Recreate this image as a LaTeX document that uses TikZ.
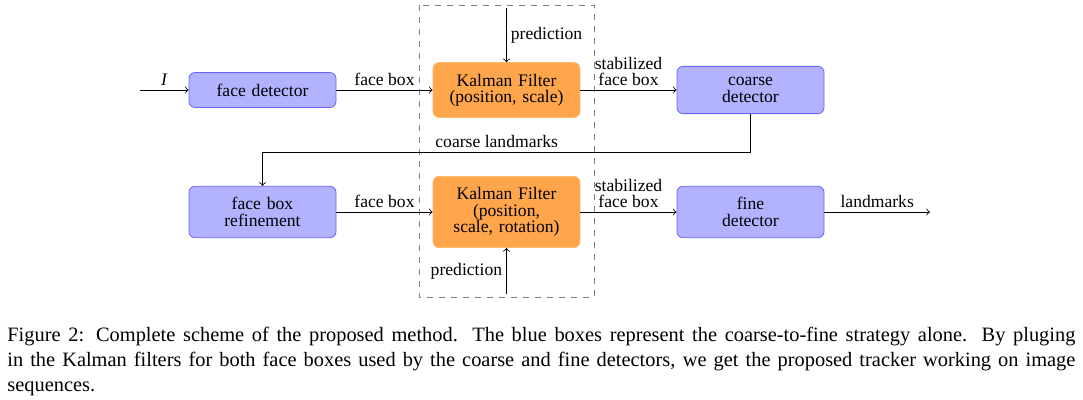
\documentclass[tikz,border=0pt]{standalone}
\usepackage{fontspec}
\setmainfont{Liberation Serif}
\begin{document}
\begin{tikzpicture}[x=0.5pt,y=-0.5pt,
    detbox/.style={draw=blue!60, fill=blue!30, rounded corners=3pt, inner sep=5.6pt,
      text width=62.3pt, align=center, font=\fontsize{8.8}{8.2}\selectfont},
    kfbox/.style={detbox, draw=orange!55, fill=orange!70},
    lbl/.style={font=\fontsize{8.8}{8.2}\selectfont, align=center, inner sep=2pt}]
    \useasboundingbox (0,0) rectangle (1083,400);
    % the two Kalman filters
    \draw [gray, dashed] (419,5) rectangle (594,297);
    \node [detbox] (facedet) at (262.5,90) {face detector};
    \node [kfbox] (kalmanA) at (506.5,90) {Kalman Filter\\(position, scale)};
    \node [detbox] (coarsedet) at (750.5,90) {coarse\\detector};
    \node [detbox] (refine) at (262.5,212) {face box\\refinement};
    \node [kfbox] (kalmanB) at (506.5,212) {Kalman Filter\\(position,\\scale, rotation)};
    \node [detbox] (finedet) at (750.5,212) {fine\\detector};
    \coordinate (input) at (140,90);
    \coordinate (output) at (930,212);
    \coordinate (predA) at (506.5,8);
    \coordinate (predB) at (506.5,294);
    % connectors
    \draw [thin, ->] (input) -- node [lbl, above] {\textit{I}} (facedet);
    \draw [thin, ->] (facedet) -- node [lbl, above] {face box} (kalmanA);
    \draw [thin, ->] (kalmanA) -- node [lbl, above] {stabilized\\face box} (coarsedet);
    \draw [thin, ->] (predA) -- node [lbl, right] {prediction} (kalmanA);
    \draw [thin, ->] (coarsedet.south) -- ++(0,38) -| node [lbl, above, pos=0.26] {coarse landmarks} (refine.north);
    \draw [thin, ->] (refine) -- node [lbl, above] {face box} (kalmanB);
    \draw [thin, ->] (kalmanB) -- node [lbl, above] {stabilized\\face box} (finedet);
    \draw [thin, ->] (predB) -- node [lbl, left] {prediction} (kalmanB);
    \draw [thin, ->] (finedet) -- node [lbl, above] {landmarks} (output);
    % caption
    \node [anchor=north west, inner sep=0pt, text width=534pt, align=justify,
      font=\fontsize{10.2}{12.5}\selectfont] (caption) at (7,327) {Figure 2: Complete scheme of the proposed method. The blue boxes represent the coarse-to-fine strategy alone. By pluging\linebreak in the Kalman filters for both face boxes used by the coarse and fine detectors, we get the proposed tracker working on image\linebreak sequences.};
  \end{tikzpicture}
\end{document}
